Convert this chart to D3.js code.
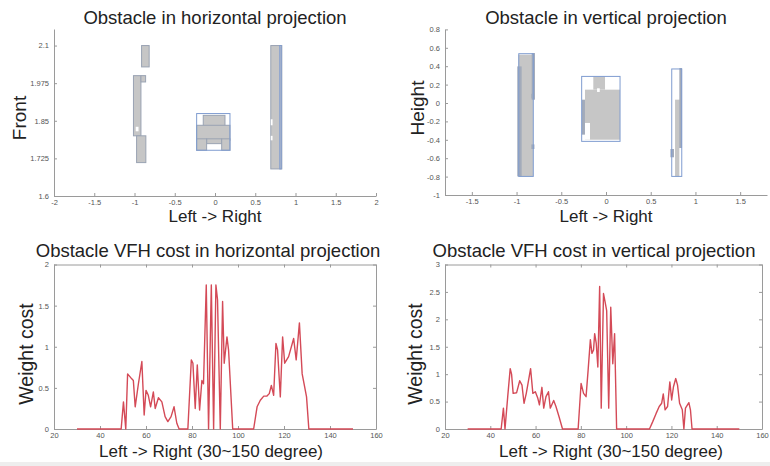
<!DOCTYPE html>
<html>
<head>
<meta charset="utf-8">
<script src="https://cdn.jsdelivr.net/npm/d3@7"></script>
<style>
  body { margin: 0; background: #fff; }
  svg { display: block; font-family: "Liberation Sans", Arial, sans-serif; }
  .tick text { fill: #555; font-size: 7.5px; }
  .tick line, .domain { stroke: #9a9a9a; }
</style>
</head>
<body>
<div id="chart"></div>
<script>
// ---- data ----
// obstacle cells [x0, x1, y0, y1] in data units
var horizGray = [
  [-0.912, -0.818, 2.029, 2.1],
  [-1.013, -0.92, 1.80, 2.0],
  [-0.92, -0.862, 1.979, 2.0],
  [-0.974, -0.859, 1.711, 1.80],
  [-0.146, 0.124, 1.824, 1.868],
  [-0.228, 0.186, 1.785, 1.835],
  [-0.104, 0.083, 1.774, 1.79],
  [-0.228, -0.104, 1.752, 1.79],
  [0.083, 0.186, 1.752, 1.79],
  [0.693, 0.83, 1.69, 2.1]
]
var horizWhite = [
  [-0.985, -0.95, 1.815, 1.83],
  [0.693, 0.715, 1.785, 1.80],
  [0.693, 0.715, 1.835, 1.855]
]
var horizBlue = [
  [-0.228, 0.186, 1.752, 1.874],
  [0.805, 0.822, 1.69, 2.1]
]
var vertGray = [
  [-0.981, -0.813, -0.798, 0.525],
  [-0.142, -0.011, 0.145, 0.289],
  [-0.235, 0.157, -0.399, 0.145],
  [0.772, 0.847, -0.489, 0.036],
  [0.772, 0.82, -0.798, -0.489]
]
var vertDark = [
  [-0.992, -0.943, -0.798, 0.398],
  [-0.831, -0.794, 0.036, 0.543],
  [-0.27, -0.235, -0.344, 0.036],
  [0.82, 0.85, -0.489, 0.38],
  [0.72, 0.76, -0.59, -0.5],
  [-0.835, -0.8, 0.05, 0.1],
  [-0.835, -0.8, -0.5, -0.45]
]
var vertWhite = [
  [-0.235, -0.179, -0.399, -0.217],
  [-0.1, -0.07, 0.12, 0.16]
]
var vertBlue = [
  [-0.975, -0.813, -0.798, 0.536],
  [-0.272, 0.157, -0.417, 0.289],
  [0.735, 0.847, -0.798, 0.37]
]

// VFH cost, horizontal projection
var hDeg = [30, 49.2, 50.2, 51.2, 52, 53.8, 54.5, 55.3, 56.7, 58.2, 59.2, 60, 61, 62, 63.2, 64, 65.4, 66.9, 68.3, 69.5,
  70.9, 72.2, 73.4, 74.4, 78.2, 79.7, 80.4, 81.4, 82.3, 83.3, 84.3, 85, 86.2, 87.2, 88.4, 89.4, 90.4, 91.1, 92.3,
  93.3, 94, 95.2, 95.9, 97.7, 106.8, 108.3, 109.7, 111.2, 112.6, 113.6, 114.5, 115.5, 116.5, 117.2, 118.4, 119.4,
  120.3, 122, 124.2, 125.3, 126.7, 127.9, 129, 129.8, 130.8, 150]
var hCost = [0, 0, 0.33, 0, 0.67, 0.61, 0.59, 0.27, 0.55, 0.82, 0.17, 0.47, 0.41, 0.27, 0.45, 0.25, 0.38, 0.33, 0.15, 0.09,
  0.15, 0.27, 0.07, 0, 0, 0.84, 0.8, 0.25, 0.78, 0.23, 0.59, 0.55, 1.75, 0, 1.75, 0, 1.75, 1.57, 0,
  1.55, 0.8, 1.12, 0.96, 0, 0, 0.27, 0.35, 0.4, 0.4, 0.43, 0.53, 0.41, 1.04, 0.96, 0.39, 1.12,
  0.8, 0.88, 1.1, 0.84, 1.29, 0.67, 0.51, 0.39, 0, 0]

// VFH cost, vertical projection
var vDeg = [30, 44.8, 45.8, 46.5, 47.7, 48.8, 49.4, 50.1, 51.6, 53, 54, 54.9, 55.9, 57.8, 58.8, 59.9, 61, 61.7, 62.8, 63.6,
  64.6, 65.7, 66.5, 68, 69, 70.4, 71.9, 78.8, 80.1, 81.2, 82.3, 83.2, 84.2, 84.9, 85.6, 86.1, 86.8, 87.5, 88.3, 89,
  90, 90.7, 91.4, 92.3, 93.2, 94.1, 94.9, 95.8, 110.3, 111.7, 113.2, 114.6, 115.7, 116.4, 117.2, 118.3, 119.3, 120.1,
  120.9, 121.9, 122.7, 123.6, 124.8, 125.5, 126.2, 127.7, 128.4, 129.1, 150]
var vCost = [0, 0, 0.38, 0, 0.59, 1.1, 1.0, 0.65, 0.66, 0.88, 0.8, 0.47, 0.65, 1.1, 0.65, 0.68, 0.56, 0.44, 0.76, 0.38,
  0.59, 0.68, 0.38, 0.52, 0.41, 0.22, 0, 0, 0.83, 0.65, 0.59, 1.07, 1.63, 1.38, 1.44, 1.74, 1.56, 1.13, 2.6, 0.38,
  2.47, 2.32, 2.16, 0.38, 2.22, 1.19, 1.74, 0, 0, 0.13, 0.28, 0.41, 0.47, 0.64, 0.35, 0.41, 0.86, 0.53,
  0.77, 0.92, 0.8, 0.47, 0.35, 0, 0.38, 0.48, 0.35, 0, 0]

var horizXTicks = [-2, -1.5, -1, -0.5, 0, 0.5, 1, 1.5, 2]
var horizYTicks = [1.6, 1.725, 1.85, 1.975, 2.1]
var vertXTicks = [-1.5, -1, -0.5, 0, 0.5, 1, 1.5]
var vertYTicks = [-1, -0.8, -0.6, -0.4, -0.2, 0, 0.2, 0.4, 0.6, 0.8]
var degTicks = [20, 40, 60, 80, 100, 120, 140, 160]
var hCostTicks = [0, 0.5, 1, 1.5, 2]
var vCostTicks = [0, 0.5, 1, 1.5, 2, 2.5, 3]

var svg = d3.select("#chart")
    .append("svg")
    .attr("width", 770)
    .attr("height", 466)

svg.append("rect").attr("x", 0).attr("y", 462).attr("width", 770).attr("height", 4).style("fill", "#eeeeee")

function fmt(d) { return String(d) }

function drawAxes(x, y, xTicks, yTicks, boxed) {
    var g = svg.append("g")
    var r = x.range(), t = y.range()
    g.append("g")
        .attr("transform", "translate(0," + t[0] + ")")
        .call(d3.axisBottom(x).tickValues(xTicks).tickFormat(fmt).tickSize(-3).tickSizeOuter(0).tickPadding(4))
    g.append("g")
        .attr("transform", "translate(" + r[0] + ",0)")
        .call(d3.axisLeft(y).tickValues(yTicks).tickFormat(fmt).tickSize(-3).tickSizeOuter(0).tickPadding(5))
    if (boxed) {
        g.append("g")
            .attr("transform", "translate(0," + t[1] + ")")
            .call(d3.axisTop(x).tickValues(xTicks).tickFormat("").tickSize(-3).tickSizeOuter(0))
        g.append("g")
            .attr("transform", "translate(" + r[1] + ",0)")
            .call(d3.axisRight(y).tickValues(yTicks).tickFormat("").tickSize(-3).tickSizeOuter(0))
    }
    return g
}

function drawRects(x, y, rects, fill, stroke) {
    svg.append("g").selectAll("rect")
        .data(rects)
        .enter()
        .append("rect")
        .attr("x", function (d) { return x(d[0]) })
        .attr("y", function (d) { return y(d[3]) })
        .attr("width", function (d) { return x(d[1]) - x(d[0]) })
        .attr("height", function (d) { return y(d[2]) - y(d[3]) })
        .style("fill", fill)
        .style("stroke", stroke || "none")
        .style("stroke-width", 1)
}

function label(txt, x, y, size, rotate) {
    svg.append("text")
        .attr("transform", "translate(" + x + "," + y + ")" + (rotate ? " rotate(-90)" : ""))
        .attr("text-anchor", "middle")
        .style("font-size", size + "px")
        .style("fill", "#222")
        .text(txt)
}

// ---- top left: horizontal projection ----
var x1 = d3.scaleLinear().domain([-2, 2]).range([54, 376])
var y1 = d3.scaleLinear().domain([1.6, 2.155]).range([196, 29])
drawRects(x1, y1, horizGray, "#c6c6c6", "#9aa3b3")
drawRects(x1, y1, horizWhite, "#fff")
drawRects(x1, y1, horizBlue, "none", "#7f9cd0")
drawAxes(x1, y1, horizXTicks, horizYTicks, false)
label("Obstacle in horizontal projection", 215, 24, 18.5)
label("Left -> Right", 215, 222, 17)
label("Front", 26, 118, 19, true)

// ---- top right: vertical projection ----
var x2 = d3.scaleLinear().domain([-1.8, 1.8]).range([445, 767])
var y2 = d3.scaleLinear().domain([-1, 0.8]).range([195, 29.4])
drawRects(x2, y2, vertGray, "#c6c6c6")
drawRects(x2, y2, vertDark, "#a3abba")
drawRects(x2, y2, vertWhite, "#fff")
drawRects(x2, y2, vertBlue, "none", "#7f9cd0")
drawAxes(x2, y2, vertXTicks, vertYTicks, false)
label("Obstacle in vertical projection", 606, 24, 18.5)
label("Left -> Right", 606, 222, 17)
label("Height", 424, 108, 19, true)

// ---- bottom: VFH cost ----
function costPlot(xr, yMax, yt, deg, cost, title, tx, lx, ly) {
    var x = d3.scaleLinear().domain([20, 160]).range(xr)
    var y = d3.scaleLinear().domain([0, yMax]).range([429, 264.5])
    drawAxes(x, y, degTicks, yt, true)
    var line = d3.line()
        .x(function (d, i) { return x(deg[i]) })
        .y(function (d) { return y(d) })
    svg.append("path")
        .datum(cost)
        .attr("d", line)
        .style("fill", "none")
        .style("stroke", "#d44a57")
        .style("stroke-width", 1.4)
        .style("stroke-linejoin", "round")
    label(title, tx, 257, 18.5)
    label("Left -> Right (30~150 degree)", lx, 457, 17)
    label("Weight cost", ly, 354, 19.5, true)
}
costPlot([54, 376], 2, hCostTicks, hDeg, hCost, "Obstacle VFH cost in horizontal projection", 208, 211, 33)
costPlot([445, 762], 3, vCostTicks, vDeg, vCost, "Obstacle VFH cost in vertical projection", 594, 611, 422)
</script>
</body>
</html>
